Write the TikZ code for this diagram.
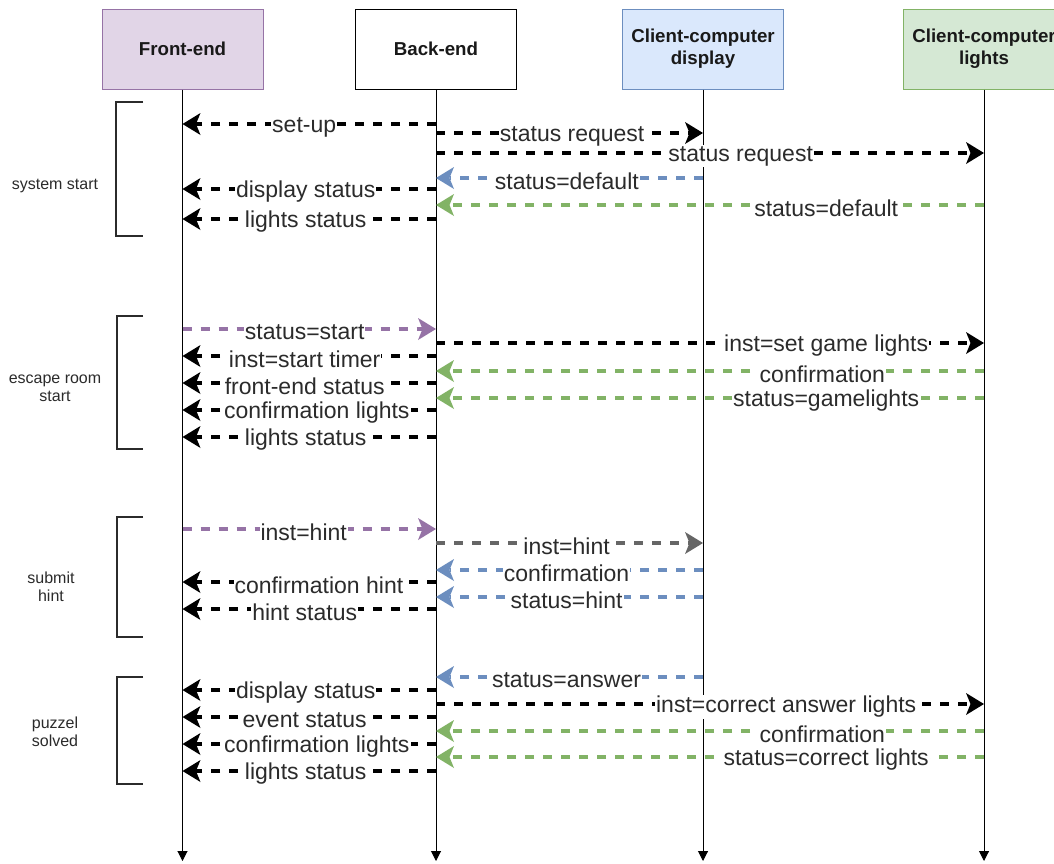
\documentclass[tikz,border=0pt]{standalone}
\usepackage{fontspec}
\setmainfont{Liberation Sans}
\usetikzlibrary{arrows.meta}
\definecolor{fePurple}{HTML}{9673A6}
\definecolor{feFill}{HTML}{E1D5E7}
\definecolor{cdBlue}{HTML}{6C8EBF}
\definecolor{cdFill}{HTML}{DAE8FC}
\definecolor{clGreen}{HTML}{82B366}
\definecolor{clFill}{HTML}{D5E8D4}
\definecolor{reqGray}{HTML}{666666}
\definecolor{txtGray}{HTML}{2B2B2B}

% one message between two lifelines: style, from, to, y, label position, label
\newcommand\msgline[6]{\draw[#1] (#2 |- 0,#4) -- node[lbl,pos=#5]{#6} (#3 |- 0,#4);}

\begin{document}
\begin{tikzpicture}[x=1pt,y=-1pt,
  hdr/.style={draw, line width=1pt, minimum width=161pt, minimum height=80pt,
    align=center, font=\fontsize{18.7}{22}\selectfont\bfseries, text=black!90},
  life/.style={draw=black, line width=1pt, -{Triangle[length=10pt,width=10pt]}},
  msg/.style={line width=3.5pt, dash pattern=on 9pt off 9pt,
    -{Stealth[length=18pt,width=22pt,inset=4.5pt,line width=0pt]}},
  blk/.style={msg, draw=black},
  pur/.style={msg, draw=fePurple},
  blu/.style={msg, draw=cdBlue},
  grn/.style={msg, draw=clGreen},
  gry/.style={msg, draw=reqGray},
  lbl/.style={fill=white, inner sep=1pt, yshift=-3pt, text=txtGray,
    font=\fontsize{23}{25}\selectfont},
  brk/.style={draw=txtGray, line width=2.5pt},
  side/.style={align=center, text=txtGray, font=\fontsize{16}{18}\selectfont}]

\useasboundingbox (0,0) rectangle (1054,863);
\fill[white] (0,0) rectangle (1054,863);

% participants
\node[hdr, draw=fePurple, fill=feFill] (FE) at (182.5,49) {Front-end};
\node[hdr, fill=white] (BE) at (436,49) {Back-end};
\node[hdr, draw=cdBlue, fill=cdFill] (CD) at (703,49) {Client-computer\\display};
\node[hdr, draw=clGreen, fill=clFill] (CL) at (984,49) {Client-computer\\lights};

% lifelines
\foreach \p in {FE,BE,CD,CL}
  \draw[life] (\p.south) -- (\p.south |- 0,861);

% phase brackets and their names
\draw[brk] (143,102) -- (116,102) -- (116,236) -- (143,236);
\node[side] (s1) at (55,186) {system start};
\draw[brk] (143,316) -- (117,316) -- (117,449) -- (143,449);
\node[side] (s2) at (55,388) {escape room\\start};
\draw[brk] (143,517) -- (117,517) -- (117,637) -- (143,637);
\node[side] (s3) at (51,587) {submit\\hint};
\draw[brk] (143,677) -- (117,677) -- (117,784) -- (143,784);
\node[side] (s4) at (55,732) {puzzel\\solved};

% system start
\msgline{blk}{BE}{FE}{124}{0.52}{set-up}
\msgline{blk}{BE}{CD}{133}{0.51}{status request}
\msgline{blk}{BE}{CL}{153}{0.556}{status request}
\msgline{blu}{CD}{BE}{178}{0.51}{status=default}
\msgline{blk}{BE}{FE}{189}{0.514}{display status}
\msgline{grn}{CL}{BE}{205}{0.288}{status=default}
\msgline{blk}{BE}{FE}{219}{0.514}{lights status}

% escape room start
\msgline{pur}{FE}{BE}{329}{0.482}{status=start}
\msgline{blk}{BE}{CL}{343}{0.712}{inst=set game lights}
\msgline{blk}{BE}{FE}{356}{0.518}{inst=start timer}
\msgline{grn}{CL}{BE}{371}{0.295}{confirmation}
\msgline{blk}{BE}{FE}{383}{0.518}{front-end status}
\msgline{grn}{CL}{BE}{398}{0.288}{status=gamelights}
\msgline{blk}{BE}{FE}{410}{0.47}{confirmation lights}
\msgline{blk}{BE}{FE}{437}{0.514}{lights status}

% submit hint
\msgline{pur}{FE}{BE}{529}{0.478}{inst=hint}
\msgline{gry}{BE}{CD}{543}{0.489}{inst=hint}
\msgline{blu}{CD}{BE}{570}{0.511}{confirmation}
\msgline{blk}{BE}{FE}{582}{0.462}{confirmation hint}
\msgline{blu}{CD}{BE}{597}{0.511}{status=hint}
\msgline{blk}{BE}{FE}{609}{0.518}{hint status}

% puzzle solved
\msgline{blu}{CD}{BE}{677}{0.511}{status=answer}
\msgline{blk}{BE}{FE}{690}{0.514}{display status}
\msgline{blk}{BE}{CL}{704}{0.639}{inst=correct answer lights}
\msgline{blk}{BE}{FE}{717}{0.518}{event status}
\msgline{grn}{CL}{BE}{731}{0.295}{confirmation}
\msgline{blk}{BE}{FE}{744}{0.47}{confirmation lights}
\msgline{grn}{CL}{BE}{757}{0.288}{status=correct lights}
\msgline{blk}{BE}{FE}{771}{0.514}{lights status}
\end{tikzpicture}
\end{document}
